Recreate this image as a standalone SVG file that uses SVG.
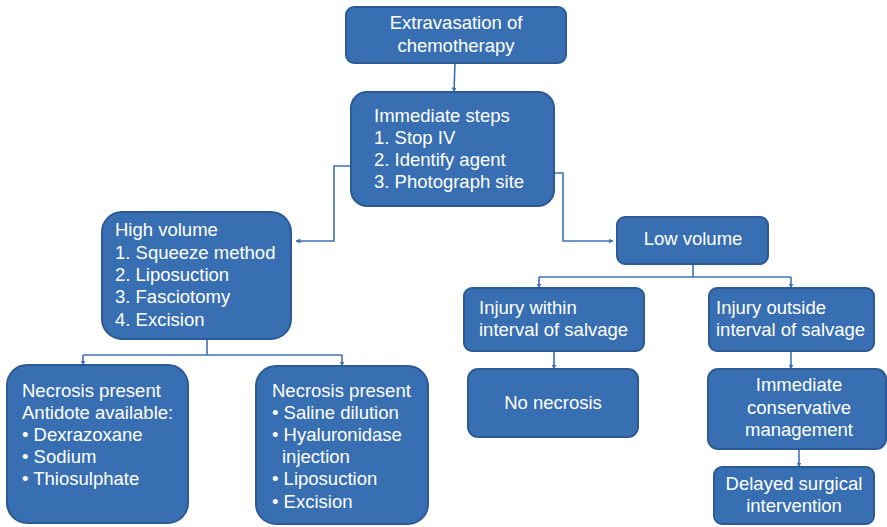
<svg xmlns="http://www.w3.org/2000/svg" width="887" height="527" viewBox="0 0 887 527">
  <style>
    .box { fill: #386fb2; stroke: #2c5a94; stroke-width: 2; }
    .t { font-family: "Liberation Sans", Arial, sans-serif; font-size: 18.5px; fill: #ffffff; }
    .c { text-anchor: middle; }
    .link { fill: none; stroke: #3f72b5; stroke-width: 1.6; }
  </style>
  <defs>
    <marker id="arrow" viewBox="0 0 10 10" refX="9" refY="5" markerWidth="5" markerHeight="5" orient="auto" markerUnits="userSpaceOnUse">
      <path d="M0,0 L10,5 L0,10 z" fill="#3f72b5"/>
    </marker>
  </defs>
  <rect width="887" height="527" fill="#ffffff"/>

  <!-- connectors -->
  <g id="connectors">
    <path class="link" d="M455,63 L454,92" marker-end="url(#arrow)"/>
    <path class="link" d="M351,166 L334,166 L334,241 L296,241" marker-end="url(#arrow)"/>
    <path class="link" d="M554,173 L563,173 L563,241 L613,241" marker-end="url(#arrow)"/>
    <path class="link" d="M207,339 L207,355"/>
    <path class="link" d="M83,355 L342,355"/>
    <path class="link" d="M83,355 L83,365" marker-end="url(#arrow)"/>
    <path class="link" d="M342,355 L342,366" marker-end="url(#arrow)"/>
    <path class="link" d="M693,264 L693,277"/>
    <path class="link" d="M539,277 L791,277"/>
    <path class="link" d="M539,277 L539,288" marker-end="url(#arrow)"/>
    <path class="link" d="M791,277 L791,288" marker-end="url(#arrow)"/>
    <path class="link" d="M554,351 L554,369" marker-end="url(#arrow)"/>
    <path class="link" d="M791,351 L791,369" marker-end="url(#arrow)"/>
    <path class="link" d="M799,449 L799,467" marker-end="url(#arrow)"/>
  </g>

  <g id="extravasation">
    <rect class="box" x="346" y="7" width="220" height="56" rx="8"/>
    <text class="t c" x="456" y="29">Extravasation of</text>
    <text class="t c" x="456" y="52">chemotherapy</text>
  </g>

  <g id="immediate-steps">
    <rect class="box" x="351" y="92" width="203" height="114" rx="16"/>
    <text class="t" x="374" y="122">Immediate steps</text>
    <text class="t" x="374" y="144">1. Stop IV</text>
    <text class="t" x="374" y="166">2. Identify agent</text>
    <text class="t" x="374" y="188">3. Photograph site</text>
  </g>

  <g id="high-volume">
    <rect class="box" x="102" y="212" width="189" height="127" rx="20"/>
    <text class="t" x="115" y="236">High volume</text>
    <text class="t" x="115" y="259">1. Squeeze method</text>
    <text class="t" x="115" y="281">2. Liposuction</text>
    <text class="t" x="115" y="303">3. Fasciotomy</text>
    <text class="t" x="115" y="326">4. Excision</text>
  </g>

  <g id="low-volume">
    <rect class="box" x="617" y="217" width="151" height="47" rx="8"/>
    <text class="t c" x="693" y="245">Low volume</text>
  </g>

  <g id="necrosis-antidote">
    <rect class="box" x="7" y="365" width="181" height="158" rx="20"/>
    <text class="t" x="22" y="397">Necrosis present</text>
    <text class="t" x="22" y="419">Antidote available:</text>
    <text class="t" x="22" y="441">• Dexrazoxane</text>
    <text class="t" x="22" y="463">• Sodium</text>
    <text class="t" x="22" y="485">• Thiosulphate</text>
  </g>

  <g id="necrosis-dilution">
    <rect class="box" x="256" y="366" width="172" height="158" rx="20"/>
    <text class="t" x="272" y="397">Necrosis present</text>
    <text class="t" x="272" y="419">• Saline dilution</text>
    <text class="t" x="272" y="441">• Hyaluronidase</text>
    <text class="t" x="282" y="463">injection</text>
    <text class="t" x="272" y="485">• Liposuction</text>
    <text class="t" x="272" y="508">• Excision</text>
  </g>

  <g id="injury-within">
    <rect class="box" x="464" y="288" width="180" height="63" rx="8"/>
    <text class="t" x="479" y="314">Injury within</text>
    <text class="t" x="479" y="336">interval of salvage</text>
  </g>

  <g id="injury-outside">
    <rect class="box" x="709" y="288" width="165" height="63" rx="8"/>
    <text class="t" x="716" y="314">Injury outside</text>
    <text class="t" x="716" y="336">interval of salvage</text>
  </g>

  <g id="no-necrosis">
    <rect class="box" x="468" y="369" width="170" height="68" rx="10"/>
    <text class="t c" x="553" y="409">No necrosis</text>
  </g>

  <g id="conservative">
    <rect class="box" x="708" y="369" width="178" height="80" rx="10"/>
    <text class="t c" x="799" y="391">Immediate</text>
    <text class="t c" x="799" y="414">conservative</text>
    <text class="t c" x="799" y="436">management</text>
  </g>

  <g id="delayed-surgery">
    <rect class="box" x="714" y="467" width="160" height="57" rx="8"/>
    <text class="t c" x="794" y="490">Delayed surgical</text>
    <text class="t c" x="794" y="512">intervention</text>
  </g>
</svg>
